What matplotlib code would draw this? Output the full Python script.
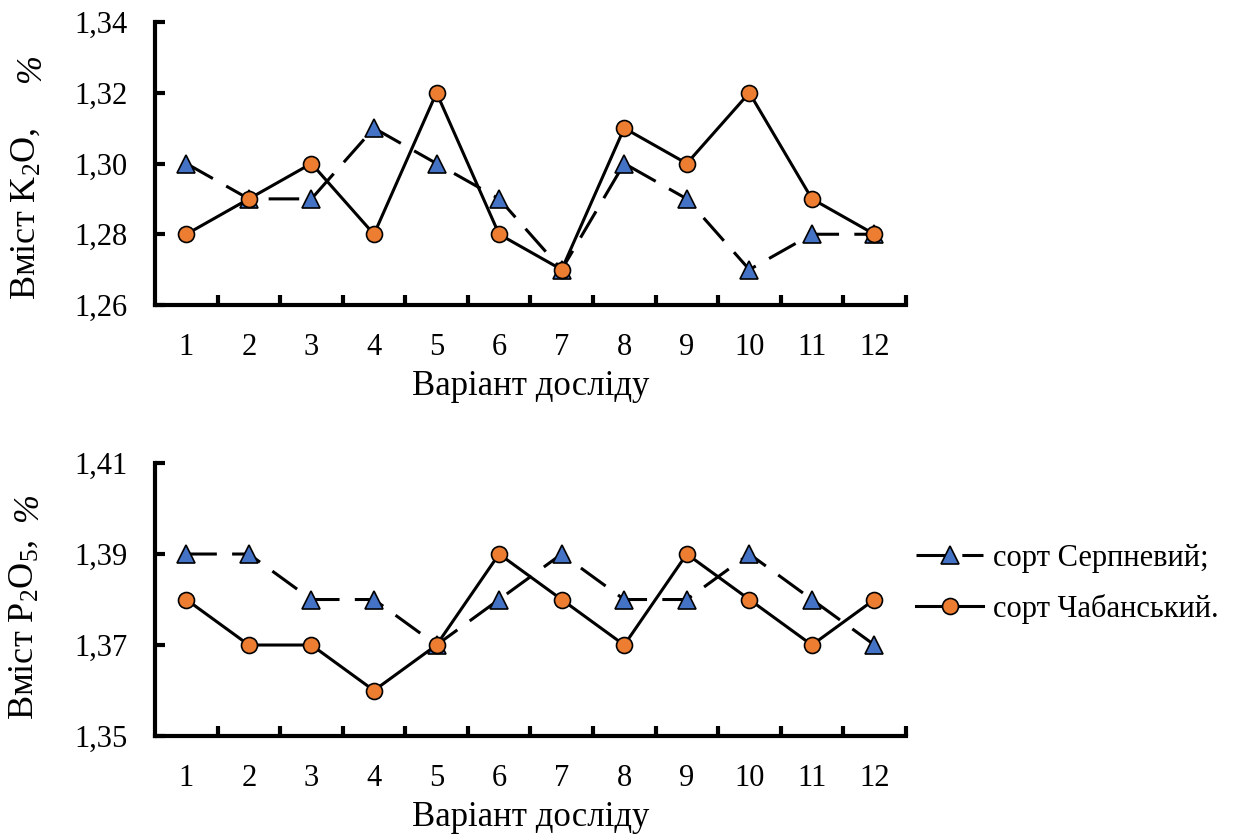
import numpy as np
import matplotlib
matplotlib.use('Agg')
import matplotlib.pyplot as plt

plt.rcParams['font.family'] = ['Liberation Serif', 'DejaVu Serif']
plt.rcParams['mathtext.fontset'] = 'custom'
plt.rcParams['mathtext.rm'] = 'Liberation Serif'
plt.rcParams['mathtext.it'] = 'Liberation Serif:italic'

variants = list(range(1, 13))
labels = [str(v) for v in variants]

# вміст K2O, %
k2o_serpnevyi = [1.30, 1.29, 1.29, 1.31, 1.30, 1.29, 1.27, 1.30, 1.29, 1.27, 1.28, 1.28]
k2o_chabanskyi = [1.28, 1.29, 1.30, 1.28, 1.32, 1.28, 1.27, 1.31, 1.30, 1.32, 1.29, 1.28]

# вміст P2O5, %
p2o5_serpnevyi = [1.39, 1.39, 1.38, 1.38, 1.37, 1.38, 1.39, 1.38, 1.38, 1.39, 1.38, 1.37]
p2o5_chabanskyi = [1.38, 1.37, 1.37, 1.36, 1.37, 1.39, 1.38, 1.37, 1.39, 1.38, 1.37, 1.38]

k2o_ticks = [1.26, 1.28, 1.30, 1.32, 1.34]
p2o5_ticks = [1.35, 1.37, 1.39, 1.41]

blue = '#4472C4'
orange = '#ED7D31'

fig = plt.figure(figsize=(12.43, 8.34), dpi=100)
ax1 = fig.add_axes([0.1247, 0.6343, 0.604, 0.3393])
ax2 = fig.add_axes([0.1247, 0.1175, 0.604, 0.3273])


def draw(ax, s1, s2, yticks, ylabel, lab_pos, pct_pos):
    x = np.array(variants)
    l1, = ax.plot(x, s1, color='black', lw=2.2, linestyle=(0, (10, 5)),
                  marker='^', markersize=13, markerfacecolor=blue,
                  markeredgecolor='black', markeredgewidth=1.2,
                  label='сорт Серпневий;', clip_on=False, zorder=3)
    l2, = ax.plot(x, s2, color='black', lw=2.2, linestyle='-',
                  marker='o', markersize=11.5, markerfacecolor=orange,
                  markeredgecolor='black', markeredgewidth=1.2,
                  label='сорт Чабанський.', clip_on=False, zorder=3)
    ax.set_xlim(0.5, 12.5)
    ax.set_ylim(yticks[0], yticks[-1])
    ax.set_yticks(yticks)
    ax.set_yticklabels([('%.2f' % v).replace('.', ',') for v in yticks])
    ax.set_xticks(np.arange(1.5, 13, 1))
    ax.set_xticklabels([])
    ax.set_xticks(x, minor=True)
    ax.set_xticklabels(labels, minor=True)
    ax.tick_params(axis='x', which='major', direction='in', length=7, width=3)
    ax.tick_params(axis='x', which='minor', length=0, pad=20, labelsize=22)
    ax.tick_params(axis='y', direction='in', length=7, width=3, pad=20, labelsize=22)
    for s in ['top', 'right']:
        ax.spines[s].set_visible(False)
    for s in ['left', 'bottom']:
        ax.spines[s].set_linewidth(3)
    ax.set_xlabel('Варіант досліду', fontsize=25, labelpad=6)
    # підпис осі Y: основна частина + курсивний знак %
    ax.text(lab_pos[0], lab_pos[1], ylabel, transform=ax.transAxes, rotation=90,
            rotation_mode='anchor', ha='left', va='baseline', fontsize=26)
    ax.text(pct_pos[0], pct_pos[1], '%', transform=ax.transAxes, rotation=90,
            rotation_mode='anchor', ha='left', va='baseline', fontsize=25,
            style='italic')
    return l1, l2


draw(ax1, k2o_serpnevyi, k2o_chabanskyi, k2o_ticks,
     r'Вміст K$_2$O,', (-0.160, 0.018), (-0.153, 0.784))
h1, h2 = draw(ax2, p2o5_serpnevyi, p2o5_chabanskyi, p2o5_ticks,
              r'Вміст P$_2$O$_5$,', (-0.1625, 0.059), (-0.157, 0.784))

fig.legend(handles=[h1, h2], loc='center left', bbox_to_anchor=(0.715, 0.30),
           frameon=False, fontsize=22, handlelength=2.2, handletextpad=0.3,
           labelspacing=0.7)

fig.savefig('out.png', dpi=100)
